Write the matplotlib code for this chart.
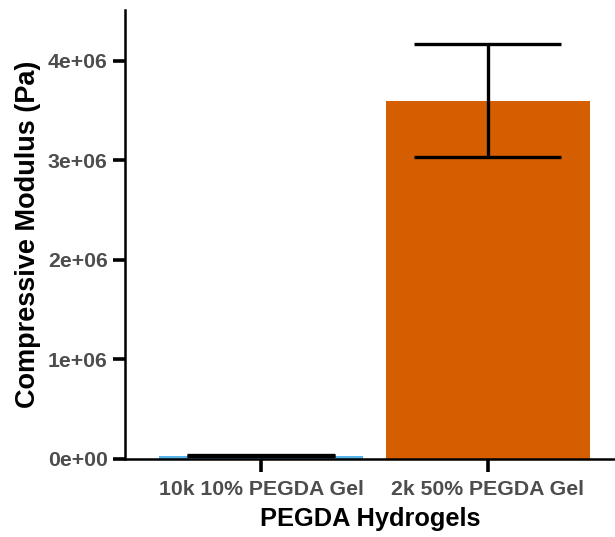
import matplotlib
matplotlib.use("Agg")
import matplotlib.pyplot as plt

categories = ["10k 10% PEGDA Gel", "2k 50% PEGDA Gel"]
means = [35000, 3600000]
errors = [8000, 567000]
colors = ["#56B4E9", "#D55E00"]
yticks = [0, 1e6, 2e6, 3e6, 4e6]
ytick_labels = ["0e+00", "1e+06", "2e+06", "3e+06", "4e+06"]

plt.rcParams['font.family'] = ['Liberation Sans', 'DejaVu Sans']

W, H = 615, 537
fig = plt.figure(figsize=(W / 100, H / 100), dpi=100)
ax = fig.add_axes([125 / W, (H - 459) / H, (615 - 125) / W, (459 - 10) / H])

x = [1, 2]
ax.bar(x, means, width=0.9, color=colors, zorder=2)
ax.errorbar(x, means, yerr=errors, fmt='none', ecolor='black', elinewidth=2.4,
            capsize=0, zorder=3)
# caps of width 0.65 in data units
for xi, m, e in zip(x, means, errors):
    ax.hlines([m - e, m + e], xi - 0.325, xi + 0.325, colors='black', linewidth=2.4, zorder=3)

ax.set_xlim(0.4, 0.4 + 490 / 226.7)
ax.set_ylim(0, 4.51e6)
ax.set_xticks(x)
ax.set_xticklabels(categories)
ax.set_yticks(yticks)
ax.set_yticklabels(ytick_labels)

for s in ['top', 'right']:
    ax.spines[s].set_visible(False)
for s in ['left', 'bottom']:
    ax.spines[s].set_linewidth(1.8)
    ax.spines[s].set_color('black')

ax.tick_params(axis='both', width=2.6, color='black',
               labelsize=15.3, labelcolor='#4D4D4D')
ax.tick_params(axis='x', length=9.5, pad=5.5)
ax.tick_params(axis='y', length=9, pad=3.5)
for lab in ax.get_xticklabels() + ax.get_yticklabels():
    lab.set_fontweight('bold')

ax.set_xlabel("PEGDA Hydrogels", fontsize=18.3, fontweight='bold', labelpad=6)
ax.set_ylabel("Compressive Modulus (Pa)", fontsize=19.5, fontweight='bold', labelpad=5)

fig.savefig("out.png", dpi=100)
